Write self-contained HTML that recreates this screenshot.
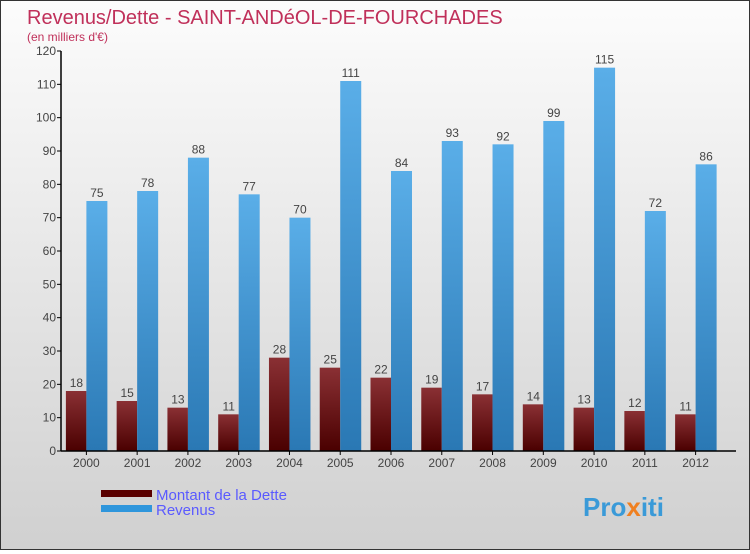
<!DOCTYPE html>
<html><head><meta charset="utf-8"><style>
html,body{margin:0;padding:0}
body{width:750px;height:550px;overflow:hidden;font-family:"Liberation Sans",sans-serif}
#c{position:relative;width:748px;height:548px;border:1px solid #333;background:linear-gradient(#fcfcfc,#d0d0d0)}
</style></head><body>
<div id="c">
<svg id="s" width="748" height="548" xmlns="http://www.w3.org/2000/svg">
<defs>
<linearGradient id="gd" x1="0" y1="0" x2="0" y2="1"><stop offset="0" stop-color="#8a3034"/><stop offset="1" stop-color="#4a0000"/></linearGradient>
<linearGradient id="gr" x1="0" y1="0" x2="0" y2="1"><stop offset="0" stop-color="#5aaee8"/><stop offset="1" stop-color="#2a78b4"/></linearGradient>
</defs>
<text x="26" y="23" font-size="20" fill="#c0305a">Revenus/Dette - SAINT-ANDéOL-DE-FOURCHADES</text>
<text x="26" y="40" font-size="12" fill="#c0305a">(en milliers d'€)</text>
<g id="plot"></g>
<g>
<rect x="100" y="489" width="51" height="7" fill="#5a0000"/>
<text x="155" y="499" font-size="15" fill="#5a5aff">Montant de la Dette</text>
<rect x="100" y="504" width="51" height="7" fill="#2f96dc"/>
<text x="155" y="514" font-size="15" fill="#5a5aff">Revenus</text>
</g>
<text x="582" y="515" font-size="26" font-weight="bold" fill="#3a9ad8">Pro<tspan fill="#f08020">x</tspan>iti</text>
</svg>
</div>
<script>
const years=["2000","2001","2002","2003","2004","2005","2006","2007","2008","2009","2010","2011","2012"];
const dette=[18,15,13,11,28,25,22,19,17,14,13,12,11];
const revenus=[75,78,88,77,70,111,84,93,92,99,115,72,86];
const yTicks=[0,10,20,30,40,50,60,70,80,90,100,110,120];
const NS="http://www.w3.org/2000/svg";
const g=document.getElementById('plot');
const x0=60,x1=720,y0=450,y1=50,ymax=120;
const bw=(x1-x0)/years.length;
function yS(v){return y0-(v/ymax)*(y0-y1);}
function xC(i){return x0+(i+0.5)*bw;}
function mk(t,a){const e=document.createElementNS(NS,t);for(const k in a)e.setAttribute(k,a[k]);g.appendChild(e);return e;}
yTicks.forEach(v=>{
  const l=mk('line',{x1:x0-4,x2:x0,y1:yS(v),y2:yS(v),stroke:'#000'});
  
  
  const t=mk('text',{x:x0-5,y:yS(v)+4,'font-size':12,fill:'#444','text-anchor':'end'});
  t.textContent=v;
  
  
});
years.forEach((yr,i)=>{
  const c=xC(i);
  const d=mk('rect',{x:c-20.5,y:yS(dette[i]),width:20.5,height:y0-yS(dette[i]),fill:'url(#gd)'});
  
  
  const r=mk('rect',{x:c,y:yS(revenus[i]),width:21,height:y0-yS(revenus[i]),fill:'url(#gr)'});
  
  
  const td=mk('text',{x:c-10,y:yS(dette[i])-4,'font-size':12,fill:'#444','text-anchor':'middle'});
  td.textContent=dette[i];
  
  
  const tr=mk('text',{x:c+10.5,y:yS(revenus[i])-4,'font-size':12,fill:'#444','text-anchor':'middle'});
  tr.textContent=revenus[i];
  
  
  const tk=mk('line',{x1:c,x2:c,y1:y0,y2:y0+4,stroke:'#000'});
  
  
  const tx=mk('text',{x:c,y:y0+16,'font-size':12,fill:'#444','text-anchor':'middle'});
  tx.textContent=yr;
  
  
});
const ya=mk('line',{x1:x0,x2:x0,y1:y1,y2:y0,stroke:'#000','stroke-width':1.5});


const xa=mk('line',{x1:x0,x2:735,y1:y0,y2:y0,stroke:'#000','stroke-width':1.5});


</script>
</body></html>
